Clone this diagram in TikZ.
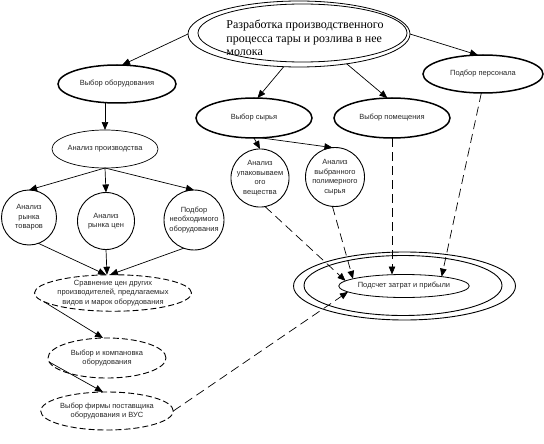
\documentclass[tikz,border=0pt]{standalone}
\usepackage{fontspec}
\setmainfont{Liberation Serif}
\setsansfont{Liberation Sans}
\usetikzlibrary{arrows.meta,shapes.geometric,calc}
\begin{document}
\begin{tikzpicture}[x=1pt,y=-1pt,
  every node/.style={inner sep=0pt, outer sep=0pt},
  lbl/.style={font=\sffamily\fontsize{7.5}{9.5}\selectfont, align=center, text=black!85},
  ell/.style={ellipse, draw, lbl},
  thickell/.style={ell, line width=1.5pt},
  thinell/.style={ell, line width=0.7pt},
  dashell/.style={ell, line width=0.9pt, dash pattern=on 6pt off 3pt},
  circ/.style={circle, draw, line width=0.9pt, lbl},
  ring/.style={line width=0.9pt},
  arr/.style={-{Triangle[length=8pt,width=6.5pt]}, line width=0.7pt},
  darr/.style={arr, dash pattern=on 9pt off 5pt},
  titletext/.style={font=\fontsize{12}{13.5}\selectfont, align=left},
]
\useasboundingbox (0,0) rectangle (544,444);
% top double ellipse
\node[ellipse, draw, line width=0.8pt, minimum width=222pt, minimum height=66pt] (top) at (299,34) {};
\draw[ring, line width=0.8pt] (302.5,33) ellipse [x radius=104.5, y radius=29];
\node[titletext] (toptxt) at (305,38) {Разработка производственного\\процесса тары и розлива в нее\\молока};

% level 1
\node[thickell, minimum width=118pt, minimum height=38pt] (sel) at (117,84) {Выбор оборудования};
\node[thickell, minimum width=116pt, minimum height=40pt] (raw) at (254,118) {Выбор сырья};
\node[thickell, minimum width=116pt, minimum height=40pt] (room) at (392,118) {Выбор помещения};
\node[thickell, minimum width=120pt, minimum height=38pt] (staff) at (483,74) {Подбор персонала};

% left branch
\node[thinell, minimum width=100pt, minimum height=38pt] (prod) at (105,149) {Анализ производства};
\node[circ, minimum size=55pt] (goods) at (29,217.5) {Анализ\\рынка\\товаров};
\node[circ, minimum size=57pt] (price) at (106,221) {Анализ\\рынка цен};
\node[circ, minimum size=60pt] (need) at (194,220) {Подбор\\необходимого\\оборудования};
\node[dashell, minimum width=130pt, minimum height=34pt] (comp) at (113,293) {Сравнение цен других\\производителей, предлагаемых\\видов и марок оборудования};
\node[dashell, minimum width=118pt, minimum height=40pt] (layout) at (107,358) {Выбор и компановка\\оборудования};
\node[dashell, minimum width=118pt, minimum height=38pt] (firm) at (107,411) {Выбор фирмы поставщика\\оборудования и ВУС};

% middle circles
\node[circ, minimum size=57pt] (pack) at (260,178) {Анализ\\упаковываем\\ого\\вещества};
\node[circ, minimum size=59pt] (poly) at (335,177) {Анализ\\выбранного\\полимерного\\сырья};

% sum
\draw[ring] (404.5,286) ellipse [x radius=111, y radius=34];
\draw[ring] (403,285.5) ellipse [x radius=99, y radius=30];
\node[ell, line width=0.8pt, minimum width=112pt, minimum height=23pt] (sum) at (404,286) {Подсчет затрат и прибыли};

% connectors from top
\draw[arr] (top.west) -- (sel.75);
\draw[arr] (top.245) -- (raw.80);
\draw[arr] (top.-32) -- (room.103);
\draw[arr] (top.east) -- (staff.105);

% left branch connectors
\draw[arr] (sel.south -| prod.north) -- (prod.north);
\draw[arr] (prod.south) -- (goods.north);
\draw[arr] (prod.south) -- (price.north);
\draw[arr] (prod.south) -- (need.north);
\draw[arr] (goods.-70) -- ($(comp.north)+(-7,0)$);
\draw[arr] (price.south) -- ($(comp.north)+(-6,0)$);
\draw[arr] (need.-110) -- ($(comp.north)+(-3,0)$);
\draw[arr] (comp.187) -- ($(layout.north)+(-4,0)$);
\draw[arr] (layout.184) -- ($(firm.north)+(-4,0)$);

% middle connectors
\draw[arr] (raw.south) -- (pack.north);
\draw[arr] ($(raw.south)+(8,0)$) -- (poly.95);

% dashed to sum
\draw[darr] (pack.-80) -- (sum.175);
\draw[darr] (poly.-95) -- (sum.172);
\draw[darr] (room.south) -- (room.south |- sum.north);
\draw[darr] (staff.-95) -- (sum.14);
\draw[darr] (firm.east) -- (sum.186);
\end{tikzpicture}
\end{document}
